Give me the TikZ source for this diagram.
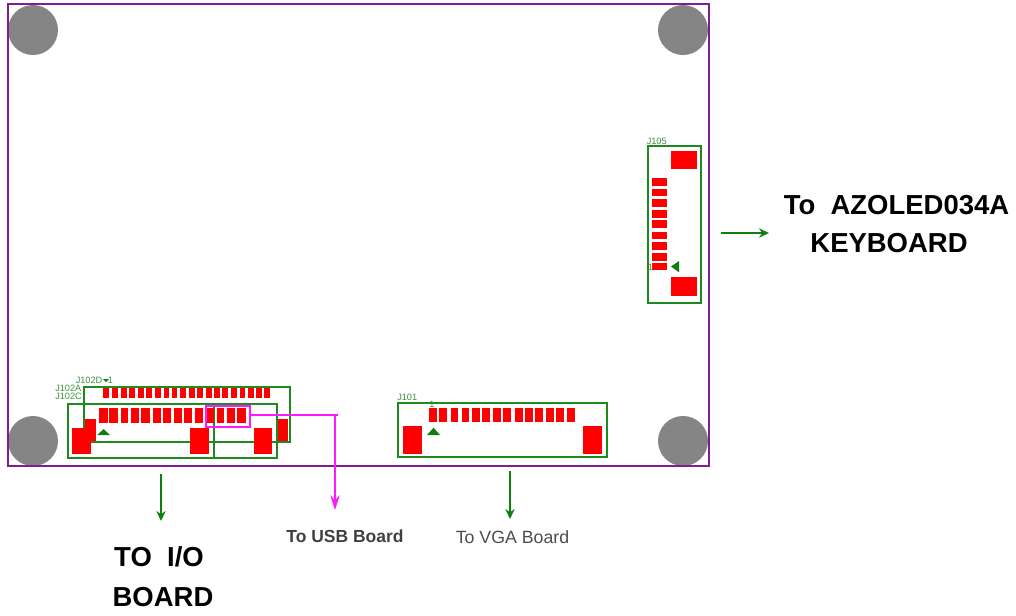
\documentclass[tikz,border=0pt]{standalone}
\usepackage{fontspec}
\setmainfont{Liberation Sans}
\usetikzlibrary{arrows.meta}
\definecolor{pcbgreen}{HTML}{1E8A1E}
\definecolor{labgreen}{HTML}{3F8F3F}
\definecolor{arrowgreen}{HTML}{0F7F0F}
\definecolor{padred}{HTML}{FF0000}
\definecolor{framepurple}{HTML}{7F1F8F}
\definecolor{holegray}{HTML}{858585}
\definecolor{usbmag}{HTML}{FF19FF}
\tikzset{
 board/.style={draw=framepurple,line width=1.6pt},
 hole/.style={fill=holegray},
 outline/.style={draw=pcbgreen,line width=1.35pt},
 pad/.style={fill=padred},
 polemark/.style={fill=arrowgreen},
 silk/.style={text=labgreen,font=\fontsize{6.9}{7}\selectfont,inner sep=0pt},
 flow/.style={draw=arrowgreen,line width=1.3pt,-{Stealth[length=7.5pt,width=7pt]}},
 usb/.style={draw=usbmag,line width=1.2pt},
 bigtext/.style={font=\fontsize{20.6}{24}\selectfont\bfseries,inner sep=0pt},
}
\begin{document}
\begin{tikzpicture}[x=0.75pt,y=-0.75pt]
\useasboundingbox (0,0) rectangle (1016,615);
% mounting holes
\fill[hole] (33,30) circle (25);
\fill[hole] (683,30) circle (25);
\fill[hole] (33,441) circle (25);
\fill[hole] (683,441) circle (25);
% board outline
\draw[board] (8,4) rectangle (709,466);
% J102 pads behind
\fill[pad] (85,419) rectangle (95.7,442);
\fill[pad] (278.3,419) rectangle (288.3,441.7);
% J102D / J102C outlines
\draw[outline] (83.7,442.3) -- (83.7,387) -- (290,387) -- (290,442.3) -- cycle;
\draw[outline] (67.7,404) rectangle (276.7,457.7);
\draw[outline] (213.7,404) -- (213.7,457.7);
% J102 top row
\foreach \a/\b in {190/207,215/233,242/260,268/286,295/311,318/336,344/362,371/388,395/412,421/438,447/464,472/490,497/515,522/540,547/565,574/591,600/616,624/641,648/665,673/690}
  \fill[pad] ({40+\a/3},387.7) rectangle ({40+\b/3},398.3);
% J102 second row
\foreach \a/\b in {177/203,207/233,243/265,274/298,304/329,339/364,368/392,403/425,433/455,466/490,498/522,530/553,560/584,591/617}
  \fill[pad] ({40+\a/3},408.3) rectangle ({40+\b/3},423.3);
% J102 large pads
\fill[pad] (72,427.7) rectangle (91,453.7);
\fill[pad] (190,427.7) rectangle (208.7,453.7);
\fill[pad] (253.7,427.7) rectangle (272.3,453.7);
\fill[polemark] (97.3,435) -- (103.6,429) -- (110,435) -- cycle;
% J101
\draw[outline] (397.7,402.7) rectangle (607,457.3);
\foreach \a/\b in {118/142,147/172,183/205,215/237,246/270,276/300,310/334,340/364,374/398,404/428,435/459,467/491,498/522,532/556}
  \fill[pad] ({390+\a/3},408.3) rectangle ({390+\b/3},422.3);
\fill[pad] (402.7,426.3) rectangle (421.7,453.7);
\fill[pad] (583,426.3) rectangle (602,453.7);
\fill[polemark] (427,435) -- (433.5,427.7) -- (440,435) -- cycle;
% J105
\draw[outline] (647.7,146) rectangle (701,302.7);
\fill[pad] (670.7,151) rectangle (697.3,169);
\fill[pad] (670.7,277) rectangle (697.3,296);
\foreach \a/\b in {145/168,176/199,207/230,240/264,271/294,305/328,336/359,370/393,400/420}
  \fill[pad] (652.3,{130+\a/3}) rectangle (667.3,{130+\b/3});
\fill[polemark] (671,266.5) -- (679,261) -- (679,272.3) -- cycle;
% silk labels
\node[silk,anchor=west] (j105) at (646.5,141) {J105};
\node[silk,anchor=west] (j101) at (397,397.5) {J101};
\node[silk,anchor=west] (j102d) at (75.5,380) {J102D};
\node[silk,anchor=west] (j102a) at (55,388) {J102A};
\node[silk,anchor=west] (j102c) at (55,396) {J102C};
\node[silk,anchor=west] (pa) at (107.5,380) {1};
\fill[polemark] (103,379) -- (109,379) -- (106,382) -- cycle;
\node[silk] (pb) at (432,404) {1};
\node[silk] (pc) at (650.5,267) {1};
% USB highlight
\draw[usb] (205.7,405.7) rectangle (250,426.7);
\coordinate (usbout) at (250,415);
\coordinate (usbstub) at (337.5,415);
\coordinate (usbcorner) at (335,415);
\coordinate (usbend) at (335,510);
\draw[usb] (usbout) -- (usbstub);
\draw[usb,-{Stealth[length=11pt,width=7pt]}] (usbcorner) -- (usbend);
% green arrows
\coordinate (kbA) at (721,233);
\coordinate (kbB) at (769,233);
\coordinate (ioA) at (161,474);
\coordinate (ioB) at (161,521);
\coordinate (vgaA) at (510,471);
\coordinate (vgaB) at (510,519);
\draw[flow] (kbA) -- (kbB);
\draw[flow] (ioA) -- (ioB);
\draw[flow] (vgaA) -- (vgaB);
% captions
\node[bigtext] (kb1) at (896.5,205.5) {To\ \ AZOLED034A};
\node[bigtext] (kb2) at (889,243.5) {KEYBOARD};
\node[bigtext] (io1) at (159,556.5) {TO\ \ I/O};
\node[bigtext] (io2) at (163,597.5) {BOARD};
\node[inner sep=0pt,text=black!75,font=\fontsize{13.1}{15}\selectfont\bfseries] (usbt) at (345,536) {To USB Board};
\node[inner sep=0pt,text=black!70,font=\fontsize{13.3}{15}\selectfont] (vgat) at (512.5,537) {To VGA Board};
\end{tikzpicture}
\end{document}
